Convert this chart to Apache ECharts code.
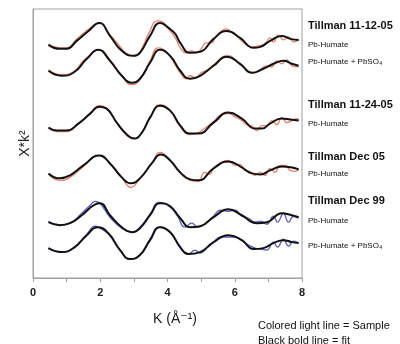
<!DOCTYPE html>
<html>
<head>
<meta charset="utf-8">
<script src="https://cdn.jsdelivr.net/npm/echarts@6/dist/echarts.min.js"></script>
<style>
  html, body { margin: 0; padding: 0; background: #fff; }
  #chart { width: 400px; height: 344px; }
</style>
</head>
<body>
<div id="chart"></div>
<script>
// k (1/A) and offset chi*k^2
var tickLabels = ["0", "2", "4", "6", "8"];

var fit1 = [[0.46,23.4],[0.80,23.0],[1.00,23.0],[1.30,23.8],[1.65,24.8],[1.97,25.6],[2.29,24.3],[2.64,22.8],[2.99,22.3],[3.18,22.6],[3.48,24.3],[3.78,25.6],[4.03,25.1],[4.23,24.5],[4.38,23.6],[4.67,22.6],[4.97,22.7],[5.37,24.0],[5.76,24.8],[6.16,24.1],[6.56,23.1],[6.76,23.2],[7.05,23.8],[7.40,24.3],[7.65,24.0],[7.90,23.9]];
var sample1 = [[0.46,23.5],[0.80,23.1],[1.00,23.1],[1.30,24.0],[1.55,24.7],[1.70,25.1],[1.97,25.6],[2.29,24.4],[2.55,23.4],[2.75,22.6],[2.99,22.3],[3.18,22.7],[3.45,24.6],[3.70,25.8],[3.85,25.7],[4.03,25.0],[4.25,24.0],[4.40,23.0],[4.55,22.6],[4.70,22.8],[4.85,22.6],[5.00,23.0],[5.15,23.6],[5.30,23.6],[5.45,24.3],[5.65,24.9],[5.75,25.0],[5.85,24.8],[6.00,24.5],[6.20,23.8],[6.40,23.3],[6.55,23.2],[6.70,23.3],[6.90,23.5],[7.05,24.1],[7.15,23.7],[7.30,24.4],[7.45,23.9],[7.60,24.2],[7.75,23.7],[7.90,23.9]];

var fit2 = [[0.46,20.8],[0.85,20.3],[1.20,20.6],[1.60,22.0],[1.94,22.9],[2.29,21.8],[2.64,20.3],[2.94,19.6],[3.18,20.0],[3.48,21.6],[3.78,22.9],[4.08,22.3],[4.38,20.8],[4.67,20.0],[4.97,20.3],[5.37,21.3],[5.76,22.2],[6.16,21.5],[6.51,20.6],[6.85,21.0],[7.15,21.5],[7.45,21.8],[7.70,21.5],[7.90,21.3]];
var sample2 = [[0.46,20.9],[0.85,20.4],[1.20,20.7],[1.50,21.8],[1.65,22.2],[1.94,22.9],[2.29,21.9],[2.64,20.3],[2.94,19.4],[3.18,19.9],[3.48,21.8],[3.72,23.1],[3.85,23.0],[4.08,22.2],[4.38,20.6],[4.55,20.0],[4.67,20.3],[4.85,20.1],[5.00,20.6],[5.20,20.9],[5.37,21.4],[5.55,21.9],[5.72,22.3],[5.85,22.3],[6.00,21.9],[6.20,21.3],[6.40,20.8],[6.55,20.6],[6.75,20.9],[6.95,21.3],[7.10,21.2],[7.25,21.8],[7.40,21.5],[7.55,21.9],[7.70,21.3],[7.90,21.2]];

var fit3 = [[0.46,15.1],[0.71,14.8],[1.00,14.8],[1.35,15.5],[1.70,16.5],[1.97,17.2],[2.19,17.0],[2.49,15.6],[2.79,14.4],[3.01,14.0],[3.24,14.6],[3.48,16.1],[3.78,17.3],[4.08,16.8],[4.38,15.3],[4.67,14.5],[4.92,14.5],[5.37,15.6],[5.81,16.6],[6.21,16.0],[6.61,15.0],[6.81,15.0],[7.05,15.5],[7.40,16.0],[7.65,15.9],[7.90,15.8]];
var sample3 = [[0.46,15.0],[0.71,14.7],[1.00,14.7],[1.35,15.5],[1.70,16.5],[1.97,17.3],[2.19,17.0],[2.49,15.6],[2.79,14.3],[3.01,14.0],[3.24,14.6],[3.48,16.1],[3.78,17.4],[4.08,16.8],[4.38,15.2],[4.67,14.4],[4.92,14.6],[5.10,15.0],[5.37,15.7],[5.60,16.4],[5.81,16.5],[6.00,16.2],[6.21,15.8],[6.35,15.4],[6.50,15.3],[6.65,14.8],[6.81,15.3],[6.95,15.3],[7.10,15.8],[7.25,15.4],[7.40,16.1],[7.55,15.6],[7.70,15.8],[7.85,16.0],[7.90,15.8]];

var fit4 = [[0.46,10.5],[0.80,10.0],[1.10,10.3],[1.50,11.3],[1.97,12.3],[2.29,11.5],[2.64,10.1],[2.91,9.5],[3.18,10.0],[3.53,11.5],[3.80,12.4],[4.08,11.8],[4.38,10.6],[4.67,9.9],[4.92,9.8],[5.37,11.0],[5.81,11.7],[6.21,11.1],[6.51,10.5],[6.76,10.4],[7.05,10.8],[7.40,11.2],[7.70,11.1],[7.90,10.9]];
var sample4 = [[0.46,10.4],[0.80,9.8],[1.10,10.1],[1.50,11.2],[1.97,12.3],[2.29,11.5],[2.64,10.1],[2.91,9.1],[3.18,10.0],[3.53,11.5],[3.78,12.6],[4.08,11.8],[4.38,10.5],[4.67,9.8],[4.92,9.7],[5.10,10.6],[5.25,10.4],[5.37,11.0],[5.55,11.5],[5.81,11.8],[6.00,11.3],[6.15,11.4],[6.30,10.8],[6.45,10.7],[6.60,10.3],[6.75,10.6],[6.90,10.3],[7.05,11.0],[7.20,10.6],[7.35,11.3],[7.50,11.3],[7.65,10.8],[7.80,10.7],[7.90,10.9]];

var fit5 = [[0.46,5.6],[0.80,5.3],[1.10,5.5],[1.45,6.3],[1.85,7.4],[1.99,7.5],[2.29,6.3],[2.64,5.1],[2.94,4.6],[3.18,5.0],[3.48,6.3],[3.78,7.5],[4.08,7.2],[4.38,6.0],[4.67,5.1],[4.97,5.2],[5.37,6.1],[5.81,6.9],[6.21,6.3],[6.66,5.5],[6.96,5.6],[7.40,6.5],[7.70,6.3],[7.90,6.1]];
var sample5 = [[0.46,5.7],[0.80,5.3],[1.10,5.5],[1.45,6.5],[1.70,7.3],[1.85,7.7],[1.99,7.5],[2.29,6.1],[2.64,5.0],[2.94,4.6],[3.18,5.1],[3.48,6.4],[3.75,7.6],[4.08,7.1],[4.30,6.2],[4.52,5.1],[4.72,5.5],[4.90,5.1],[5.06,5.3],[5.37,6.2],[5.57,6.8],[5.81,6.7],[6.01,6.8],[6.21,6.2],[6.41,6.0],[6.61,5.6],[6.78,5.7],[6.95,5.4],[7.15,6.2],[7.27,5.6],[7.45,6.5],[7.60,5.6],[7.75,6.2],[7.90,6.0]];

var fit6 = [[0.46,3.0],[0.85,2.6],[1.20,3.0],[1.60,4.3],[1.91,5.1],[2.24,4.5],[2.59,2.8],[2.89,1.9],[3.18,2.3],[3.48,3.8],[3.78,5.1],[4.08,4.6],[4.38,3.1],[4.62,2.4],[4.97,2.6],[5.37,3.6],[5.81,4.3],[6.21,3.8],[6.56,2.9],[6.85,3.0],[7.15,3.5],[7.45,3.8],[7.70,3.6],[7.90,3.5]];
var sample6 = [[0.46,3.0],[0.85,2.6],[1.20,3.0],[1.60,4.4],[1.85,5.2],[1.95,5.1],[2.24,4.4],[2.59,2.8],[2.89,1.9],[3.18,2.3],[3.48,3.9],[3.75,5.1],[4.08,4.6],[4.38,3.0],[4.62,2.4],[4.82,2.8],[4.97,2.5],[5.20,3.1],[5.37,3.6],[5.57,4.1],[5.81,4.1],[6.01,4.1],[6.21,3.8],[6.41,3.3],[6.61,3.0],[6.78,2.9],[6.95,2.8],[7.15,3.6],[7.27,3.1],[7.45,3.9],[7.60,3.2],[7.75,3.7],[7.90,3.5]];

var samples = [sample1, sample2, sample3, sample4, sample5, sample6];
var fits = [fit1, fit2, fit3, fit4, fit5, fit6];
var sampleColors = ["#e8806c", "#e8806c", "#e8806c", "#e8806c", "#5a5cc4", "#5a5cc4"];

// text column right of the plot: [text, y, bold]
var sideLabels = [
    ["Tillman 11-12-05", 20, true],
    ["Pb-Humate", 41, false],
    ["Pb-Humate + PbSO\u2084", 58, false],
    ["Tillman 11-24-05", 99, true],
    ["Pb-Humate", 120, false],
    ["Tillman Dec 05", 151, true],
    ["Pb-Humate", 170, false],
    ["Tillman Dec 99", 195, true],
    ["Pb-Humate", 217, false],
    ["Pb-Humate + PbSO\u2084", 242, false]
];
var notes = ["Colored light line = Sample", "Black bold line = fit"];

var chart = echarts.init(document.getElementById("chart"));

var series = [];
samples.forEach(function (d, i) {
    series.push({
        type: "line", data: d, smooth: 0.5, symbol: "none", z: 2,
        lineStyle: { color: sampleColors[i], width: 1.3 }
    });
});
fits.forEach(function (d) {
    series.push({
        type: "line", data: d, smooth: 0.5, symbol: "none", z: 3,
        lineStyle: { color: "#111", width: 2 }
    });
});

var graphics = sideLabels.map(function (l) {
    return {
        type: "text", left: 308, top: l[1], silent: true,
        style: {
            text: l[0], fill: "#111", verticalAlign: "middle",
            font: (l[2] ? "bold 11px" : "8px") + " 'Liberation Sans', Arial, sans-serif"
        }
    };
});
notes.forEach(function (t, i) {
    graphics.push({
        type: "text", left: 258, top: 320 + i * 15, silent: true,
        style: { text: t, fill: "#111", verticalAlign: "middle", font: "11px 'Liberation Sans', Arial, sans-serif" }
    });
});

var option = {
    animation: false,
    grid: { left: 33, right: 98, top: 9, bottom: 66, show: true, borderColor: "#a0a0a0", borderWidth: 1 },
    xAxis: {
        type: "value", min: 0, max: 8, interval: 1,
        name: "K (\u00c5\u207b\u00b9)", nameLocation: "middle", nameGap: 34,
        nameTextStyle: { fontSize: 14, color: "#222", fontFamily: "'Liberation Sans', 'DejaVu Sans', sans-serif", padding: [0, 0, 0, 15] },
        axisLine: { lineStyle: { color: "#a0a0a0" } },
        axisTick: { length: 4, lineStyle: { color: "#a0a0a0" } },
        splitLine: { show: false },
        axisLabel: {
            margin: 9, fontSize: 11, fontWeight: "bold", color: "#222",
            fontFamily: "'Liberation Sans', Arial, sans-serif",
            formatter: function (v) { return tickLabels.indexOf(String(v)) >= 0 ? String(v) : ""; }
        }
    },
    yAxis: {
        type: "value", min: 0, max: 27,
        name: "X*k\u00b2", nameLocation: "middle", nameGap: 1,
        nameTextStyle: { fontSize: 14, color: "#222", fontFamily: "'Liberation Sans', 'DejaVu Sans', sans-serif" },
        axisLine: { show: true, lineStyle: { color: "#a0a0a0" } },
        axisTick: { show: false },
        axisLabel: { show: false },
        splitLine: { show: false }
    },
    graphic: graphics,
    series: series
};
chart.setOption(option);
window.addEventListener("resize", chart.resize);
</script>
</body>
</html>
